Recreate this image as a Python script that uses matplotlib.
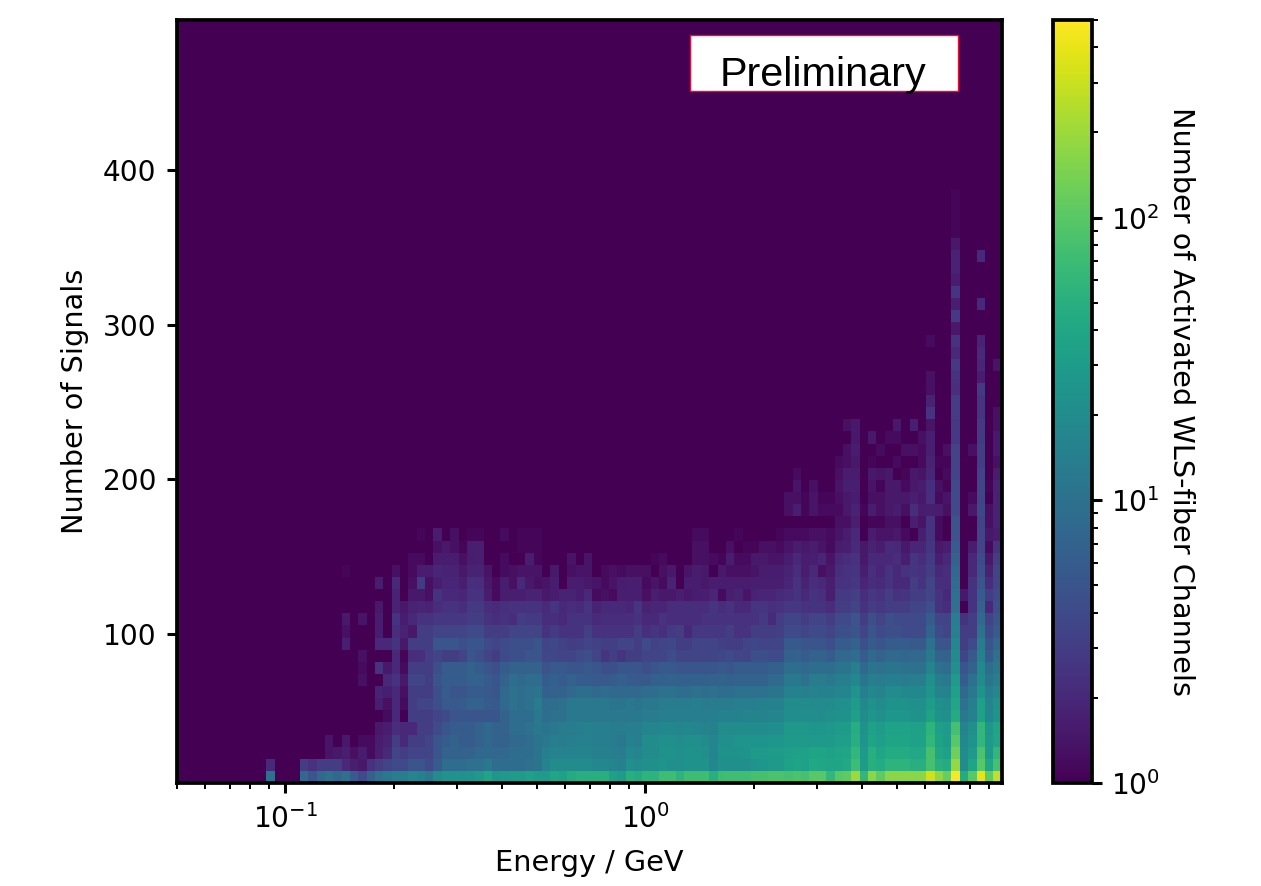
import numpy as np
import matplotlib
matplotlib.use("Agg")
import matplotlib.pyplot as plt
from matplotlib.colors import LogNorm
from matplotlib.patches import Rectangle

# Counts, row 0 is the bottom row of the histogram
# Column block 15..43
LEFT_ROWS = [
    [8,5,8,10,8,10,6,4,7,10,12,14,14,17,15,12,20,25,25,24,25,28,38,26,28,30,30,33,30],
    [3,2.5,3,3,3,2,1.7,1.5,2.5,3,3.5,4,4,5,5,4,6,9,9,9,10,10,12,9,9,9,9,10,11],
    [1,1,1,1.4,1.5,1.7,1.3,1.6,1.2,1.7,2,3.5,3,3.5,3.5,3.5,5,7,7,7,7,8,8,8,8,9,9,9,11],
    [1,1,1,1.4,1,1.5,1,1.2,1.2,1.6,1.8,3,2,3,3,3.5,5,6,7,6,6,7,8,7,7,8,8,9,11],
    [1,1,1,1,1,1,1,1,1,1.5,1.6,2.2,2,2,3,3,4,5,6,6,6,7,8,7,7,9,9,10,12],
    [1,1,1,1,1,1,1,1,1,1,1.2,2,1,3,3,3,3.5,4,5,5,5,5,5,5,7,9,9,9,12],
    [1,1,1,1,1,1,1,1,1,1.7,1.3,2,1.2,3,3.5,3.5,4.5,5.5,5.5,6,7,7,6,5.5,8,10,9,10,13],
    [1,1,1,1,1,1,1,1,1,1.8,1.7,2,1.3,3,3,3,4.5,6,5,5,6,6,5.5,5,8,10,9,10,11],
    [1,1,1,1,1,1,1,1.3,1,1,2,2.5,1.5,3.5,3.5,3,5,6,6,6,7,7,6,5,7,9,8,9,9],
    [1,1,1,1,1,1,1,1.2,1,2.5,1.5,2,1.2,3,3,3,4.5,6,6,6,7,6,5,4.5,6,7,7,7,7],
    [1,1,1,1,1,1,1,1.3,1,1,1,2,1.1,2.2,2.3,3,3.5,3,3,3.5,5,4.5,3.5,3,4,4.5,4.5,5,5],
    [1,1,1,1,1,1.7,1,1,1,2,2,2.5,1.5,3,3,3,5,5,5,4.5,5,5,4,3.5,4,4.5,4.5,4.5,5],
    [1,1,1,1,1,1.3,1,1,1,1.6,1,2.2,1.8,1.5,3,3,3.5,3.5,3.5,3.5,4,4,3,3,3,3.5,3.5,3.5,3.5],
    [1,1,1,1,1,1.5,1,1.4,1,1.6,1,2.5,1.6,2,2.5,2.5,2.7,2.7,2.7,2.7,3,3,2.5,2.2,2.5,2.2,3,2.8,2.8],
    [1,1,1,1,1,1,1,1,1,1.5,1,1.8,1.5,1.8,1.9,1.8,2.2,2.4,2.4,2.2,2.8,2.8,2.2,2.1,2.3,2.4,2.4,2.5,2.5],
    [1,1,1,1,1,1,1,1,1,1,1,1.8,1,1.5,1.5,1.3,2.5,2,2,1.9,2.4,2.4,1.6,1.2,1.6,1.7,1.7,1.8,1.8],
    [1,1,1,1,1,1,1,1,1,1.6,1,2,1,1.3,2.8,1.3,1.7,1.9,1.9,1.7,2.3,2.2,1.5,1.2,1.6,1.3,2,1.5,1.3],
    [1,1,1,1,1,1.1,1,1,1,1,1,1.3,1,1.2,1.6,1.6,1.9,1.8,1.8,1.5,1.8,1.8,1.4,1,1.2,1.3,1.4,1.4,1.4],
    [1,1,1,1,1,1,1,1,1,1,1,1,1,1.2,1.2,1,1.6,1.6,1.6,1.3,1.6,1.7,1,1,1.2,1,1,1.6,1.1],
    [1,1,1,1,1,1,1,1,1,1,1,1,1,1,1,1,1.3,1.5,1.3,1.1,1.7,1.7,1,1,1,1,1.1,1.1,1.1],
    [1,1,1,1,1,1,1,1,1,1,1,1,1,1,1.1,1,1.6,1,1.3,1,1.1,1.1,1,1,1.2,1,1.1,1.1,1.1],
]

# Column block 44..72
MID_ROWS = [
    [30,40,35,45,50,50,50,50,35,30,50,45,55,55,70,70,55,72,72,70,50,70,75,75,75,80,80,85,85],
    [16,20,20,20,20,20,18,18,17,15,22,20,22,22,25,22,22,24,24,24,18,22,22,22,22,25,26,28,28],
    [14,16,16,16,16,16,15,15,14,13,18,17,20,20,24,24,22,24,24,22,17,24,24,24,25,28,28,30,30],
    [12,14,13,14,15,15,14,14,13,12,15,14,20,20,22,22,20,22,22,20,17,22,22,25,25,25,25,26,26],
    [11,12,13,13,14,15,14,14,13,13,14,14,17,17,18,18,17,18,17,16,15,20,20,20,20,20,20,21,21],
    [9,10,10,12,12,12,12,12,12,12,12,12,13,13,14,14,14,14,14,14,14,15,15,15,16,16,16,17,17],
    [9,9,10,12,12,12,12,12,11,11,12,11,12,12,13,13,13,13,14,13,13,13,13,14,14,14,15,15,15],
    [6.5,7,7,8,9,9,8,9,8,8,8,8,9,9,10,10,9,9,10,9,10,9,9,10,10,10,10,11,11],
    [6,6.5,6,7,6,6,5.5,5.5,6,6.5,6,5.5,5.5,6.5,6.5,7,6.5,6.5,6.5,6.5,7,7,6.5,7,7,7,7,8,8],
    [4.8,5.5,5.5,5,5,5.5,5,4.5,4.5,5,5,5,4.5,5,5.5,5.5,5,5,5,5,5,5.5,5,6,6,6,6,6.5,6.5],
    [3.8,3.8,3.5,3.5,4,4.5,3.5,2.6,3,2.6,3,3,3.5,3.5,3.5,4.2,3.5,3.5,3.5,3.5,3.5,3.8,4,3.5,3.5,4.5,4.5,4,4],
    [3.5,3.8,3.3,3,3.2,3.5,3.3,3,3.2,3.5,3.5,3,4,3.3,3.5,3.8,3,3,3.5,3.5,3.5,3.2,3,3,3.5,3.8,3.5,3.5,3.5],
    [2.5,2.8,2.5,2.5,2.5,3.2,2.4,2.4,2.4,2.4,2.4,3,2.3,2.6,2.3,2.8,3,2,2.7,2.7,2.7,2.7,3,2.4,2.4,3,3,3,3.2],
    [2.2,2.2,2,2.5,2.5,2.5,2.1,2.2,2.2,2.2,2.2,2.4,2,2,2.4,2.2,2.2,2.2,2.2,2.4,2.4,2.4,2.4,2.4,2.4,2.4,2.8,2.1,3],
    [2.1,2.6,2,2.2,2.1,2.6,1.8,2,2,2,1.9,2.6,1.8,1.9,1.9,2.2,2.2,2.2,2.2,2.2,2.6,2.2,2.4,2,2,2.6,2.6,2.3,2.4],
    [1.5,1.6,1.8,1.8,1.6,2,1.2,1.3,1.2,1.7,1.7,1.7,1.3,1.7,1.5,1.5,1.7,1.5,1.6,1.7,1.9,1.2,1.7,1.8,1.4,1.8,1.9,1.9,2.1],
    [1.4,1.6,1,1.6,1.6,1.5,1.4,1.2,1.4,1.6,1.7,1.7,1.2,1.4,1.2,1.8,1,1.6,1.6,1.5,1.6,1.6,1.6,1.6,1.6,1.7,1.7,1.7,1.7],
    [1,1.5,1,1.3,1.4,1.4,1,1.2,1.3,1.2,1.3,1.3,1.3,1,1.3,1.5,1,1.4,1.6,1.5,1,1.5,1.3,1.3,1.3,1.4,1.6,1.6,1.6],
    [1,1,1,1.4,1,1.4,1,1,1,1,1,1,1,1.1,1.2,1,1,1,1.3,1.3,1.2,1.1,1.6,1.2,1.2,1.5,1.5,1.4,1.4],
    [1,1,1,1,1,1,1,1,1,1,1,1,1,1,1,1,1,1,1.3,1.3,1,1,1.3,1,1.1,1.1,1.3,1.3,1.2],
    [1,1,1,1,1,1,1,1,1,1,1,1,1,1,1,1,1,1,1.2,1.2,1,1,1,1.1,1,1,1,1,1.1],
]

# Column block 73..98
RIGHT_ROWS = [
    [80,85,80,100,100,60,100,110,200,60,170,110,170,170,170,170,170,320,180,120,500,45,100,400,110,280],
    [35,38,35,42,40,38,38,42,70,30,50,45,55,55,55,50,50,80,50,45,190,20,38,100,40,80],
    [32,35,35,38,38,35,38,40,60,28,50,40,45,45,45,42,42,80,40,35,130,20,28,85,28,60],
    [28,28,28,28,28,28,32,32,50,25,38,32,38,38,38,35,35,60,35,30,100,18,25,60,28,40],
    [27,27,27,26,26,27,30,30,48,24,34,30,36,36,36,34,34,55,32,30,80,16,22,60,26,38],
    [21,21,21,21,20,22,24,24,32,20,26,22,26,26,26,24,24,35,24,22,45,12,15,35,18,25],
    [20,20,20,19,19,20,22,22,30,18,24,20,24,24,24,22,22,30,22,20,40,10,14,33,17,24],
    [15,15,14,16,15,15,17,17,25,14,18,16,19,19,18,18,18,25,16,16,35,8,12,25,14,18],
    [12,12,10,13,13,12,14,14,18,11,14,13,14,14,13,14,14,22,13,12,30,6,10,20,11,14],
    [9,9,8,9,9,9,11,11,14,8,11,10,11,11,10,10,10,16,10,9,22,5,7,18,9,12],
    [6.5,7,6,7,7,6,8,8,9,6,8,7,8,8,7.5,8,8,12,7,7,20,3.5,5.5,15,6,10],
    [5.5,5.5,5,5,5,4.5,6,6,7,4.5,6,5,6,6,6,5.5,5.5,10,5,5,18,3,4,13,5,8],
    [4,4,3.5,4,4,3.5,4.5,4.5,5,3.5,5,4,4.5,4.5,4,4,4,7,4,3.5,15,3,3,10,4,6],
    [3.5,3.5,3,3.5,3.5,3,4,4,5,3,4.5,3.5,4.5,4,4,4,4,6,3.5,3.5,14,2.5,3,8,3.5,5],
    [2.7,2.7,2.5,2.5,2.5,2.2,3,3,3.6,2.5,3,2.7,3,3,3,3.5,3.5,4.5,2.5,2.2,10,1,2.5,7,2,4.5],
    [2.2,2.5,2,2.5,2.3,1.7,2.8,2.8,3.2,2.2,2.7,2.4,3,2.4,2.6,3,3,3.5,2.4,2,10,1.5,2.5,6,3,4],
    [1.9,2.4,1.8,2.2,2,1.7,2.4,2.5,2.7,1.9,2.2,2.1,2.5,2,2,3,2.5,3.5,2.2,2.2,9,1,2.5,5,2.2,3.5],
    [1.8,2.2,1.6,2,1.3,1.5,2.2,2.4,2.6,1.7,2.3,1.9,2.4,2,2.4,2.6,2.4,3,2,2.2,8,1,2,4.5,1.8,3.5],
    [1.6,2,1.6,1.7,1.9,1.4,2,2.2,2.4,1.5,2,2,2,2.2,1.7,2.6,2.2,2.8,1.7,2,7,1,2,4,1.5,3],
    [1.4,1.6,1.5,1.6,1.4,1.2,1.6,1.7,2.1,1.5,1.8,1.6,2.1,2,1.5,1.9,1.9,2.6,1.5,1.7,6,1,1.6,3.5,1.2,2.5],
    [1.2,1.2,1.2,1.3,1.3,1.2,1.4,1.6,2,1,1.6,1.4,1.4,1.5,1.2,1,1.7,2.5,1.2,1,5,1,1,3.5,1.5,1.6],
    [1,1,1,1,1,1,1.3,1.3,1.7,1,1.1,1.1,1.3,1.3,1,1.7,1.4,2.4,1.2,1,5,1,1,3.4,1.3,1.8],
    [1.3,1.7,1.1,1.4,1.2,1.2,1.2,1.5,1.8,1.1,1.6,1.3,1.5,1.6,1.3,2.2,1.6,1.7,1.6,1.3,4,1,1.5,3.8,1.3,1.8],
    [1.3,1.3,1.1,1.4,1.1,1.1,1.3,1.5,1.6,1,1.3,1.3,1.5,1.5,1.5,1.7,1.5,2.2,1.2,1.4,4,1,1.2,3.5,1,1.8],
    [1,1.4,1,1.3,1,1,1.4,1.7,1.7,1,1.4,1.1,1.5,1.5,1.2,1.5,1.6,2.2,1.3,1.1,4,1,1,3.5,1.1,1.8],
    [1,1.2,1,1,1,1,1.3,1.6,1.6,1,1.5,1.4,1.5,1,1.1,1.5,1.4,1.9,1,1.2,3.5,1,1,3.4,1,1.6],
    [1,1,1,1,1,1,1.2,1.3,1.5,1,1.1,1,1,1.2,1,1,1.2,1.8,1.1,1.1,3.5,1,1,3,1,1.3],
    [1,1,1,1,1,1,1,1.3,1.6,1,1,1.2,1,1,1.3,1.3,1.2,1.7,1,1.3,3.5,1,1.3,3,1,1.5],
    [1,1,1,1,1,1,1,1,1.5,1,1.5,1,1.2,1.2,1,1,1.3,1.7,1,1,2.8,1,1,2.8,1,1.5],
    [1,1,1,1,1,1,1,1.3,1.5,1,1,1,1,1.5,1,1.7,1,1.4,1,1,2.8,1,1,2.8,1,1.3],
]

# Upper parts of the bright columns, from row 30 upwards
SPIKE_C90 = [2.4, 1.8, 1.3, 1.3, 1, 1, 1.2]
SPIKE_C93 = [3, 3, 2.3, 2.5, 2.8, 2, 2.5, 1.5, 2.8, 1.7, 2.6, 1.6, 1.8, 1.8, 1.5, 1.1, 1.1, 1.1, 1.1]
SPIKE_C96 = [2.6, 2.6, 2.8, 1.6, 1.9, 2, 1.8, 1, 1, 2, 1, 1, 1, 2]
SPIKE_C98 = [1.3, 1, 1, 1, 1.4]

# The single isolated bin at low energy
LONE_COLUMN = [10, 2]

X_TICKS = [0.1, 1]
Y_TICKS = [100, 200, 300, 400]

W, H = 1261, 886


def build_grid():
    grid = np.ones((63, 99))
    grid[:len(LONE_COLUMN), 11] = LONE_COLUMN
    for start, block in [(15, LEFT_ROWS), (44, MID_ROWS), (73, RIGHT_ROWS)]:
        for r, row in enumerate(block):
            grid[r, start:start + len(row)] = row
    for col, spike in [(90, SPIKE_C90), (93, SPIKE_C93), (96, SPIKE_C96), (98, SPIKE_C98)]:
        grid[30:30 + len(spike), col] = spike
    return grid


def main():
    grid = build_grid()
    x_edges = np.geomspace(0.0492, 9.775, grid.shape[1] + 1)
    y_edges = np.linspace(3.7, 497.4, grid.shape[0] + 1)

    fig = plt.figure(figsize=(W / 100, H / 100), dpi=100)
    ax = fig.add_axes([177 / W, 1 - 783 / H, 825 / W, 763 / H])
    cax = fig.add_axes([1053 / W, 1 - 783 / H, 39 / W, 763 / H])

    mesh = ax.pcolormesh(x_edges, y_edges, grid, cmap='viridis', norm=LogNorm(vmin=1, vmax=500))
    ax.set_facecolor('#440154')
    ax.set_xscale('log')
    ax.set_xlim(0.05, 9.8)
    ax.set_ylim(3.7, 497)
    ax.set_xticks(X_TICKS)
    ax.set_yticks(Y_TICKS)
    ax.set_xlabel('Energy / GeV', fontsize=20.7, labelpad=11)
    ax.set_ylabel('Number of Signals', fontsize=20.7, labelpad=10)

    ax.tick_params(which='major', length=7, width=2.2, labelsize=20.2, pad=8)
    ax.tick_params(which='minor', length=4, width=1.4)
    for spine in ax.spines.values():
        spine.set_linewidth(2.7)

    cb = fig.colorbar(mesh, cax=cax)
    cb.set_label('Number of Activated WLS-fiber Channels', rotation=270, fontsize=20.7, labelpad=25)
    cb.outline.set_linewidth(2.7)
    cax.tick_params(which='major', length=7, width=2.2, labelsize=20.2, pad=7)
    cax.tick_params(which='minor', length=4, width=1.4)

    # White "Preliminary" box, sits on top of the axes
    fig.add_artist(Rectangle((690 / W, 1 - 91 / H), 268 / W, 56 / H, transform=fig.transFigure,
                             facecolor='white', edgecolor='#e0103a', lw=1))
    fig.text(720 / W, 1 - 86.5 / H, 'Preliminary', family='Liberation Sans', fontsize=29.8,
             ha='left', va='baseline', color='black')

    plt.savefig("out.png", dpi=100)


if __name__ == "__main__":
    main()
